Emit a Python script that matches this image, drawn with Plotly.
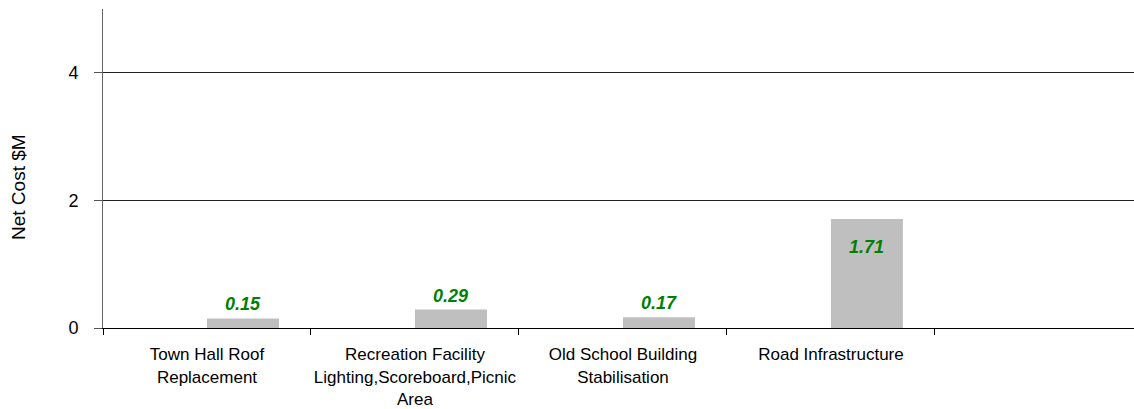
import plotly.graph_objects as go

categories = [
    "Town Hall Roof<br>Replacement",
    "Recreation Facility<br>Lighting,Scoreboard,Picnic<br>Area",
    "Old School Building<br>Stabilisation",
    "Road Infrastructure",
]
net_cost = [0.15, 0.29, 0.17, 1.71]
labels = ["0.15", "0.29", "0.17", "1.71"]
y_ticks = [0, 2, 4]

BAR_W = 0.346
label_font = dict(family="Arial", size=18, color="#008000", weight="bold", style="italic")

fig = go.Figure()
fig.add_trace(go.Bar(
    x=categories,
    y=net_cost,
    offset=0,
    width=BAR_W,
    marker=dict(color="#BFBFBF", line=dict(width=0)),
    hoverinfo="skip",
))

for i, (v, t) in enumerate(zip(net_cost, labels)):
    inside = v > 1.0
    fig.add_annotation(
        x=i + BAR_W / 2,
        y=v,
        xref="x",
        yref="y",
        text=t,
        showarrow=False,
        font=label_font,
        xanchor="center",
        yanchor="top" if inside else "bottom",
        yshift=-16 if inside else 2,
    )

fig.add_annotation(
    xref="paper", yref="paper",
    x=(18 - 103) / 1031, y=(328 - 187) / 319,
    text="Net Cost $M",
    textangle=-90,
    showarrow=False,
    xanchor="center", yanchor="middle",
    font=dict(family="Arial", size=19, color="#000000"),
)

fig.update_layout(
    width=1134,
    height=409,
    margin=dict(l=103, r=0, t=9, b=81),
    paper_bgcolor="white",
    plot_bgcolor="white",
    showlegend=False,
    font=dict(family="Arial", size=17, color="#000000"),
    xaxis=dict(
        type="category",
        range=[-0.5, 4.457],
        tickson="boundaries",
        ticks="outside",
        ticklen=6,
        tickcolor="#000000",
        showgrid=False,
        showline=True,
        linecolor="#000000",
        linewidth=1,
        tickangle=0,
        automargin=False,
        tickfont=dict(family="Arial", size=17, color="#000000"),
        ticklabelstandoff=11,
        zeroline=False,
    ),
    yaxis=dict(
        range=[0, 5],
        tickvals=y_ticks,
        ticktext=[str(v) for v in y_ticks],
        ticks="outside",
        ticklen=8,
        tickcolor="#555555",
        showgrid=True,
        gridcolor="#222222",
        gridwidth=1,
        showline=True,
        linecolor="#666666",
        linewidth=1,
        zeroline=False,
        automargin=False,
        ticklabelstandoff=12,
        tickfont=dict(family="Arial", size=18, color="#000000"),
    ),
)

fig.write_html("out.html")
